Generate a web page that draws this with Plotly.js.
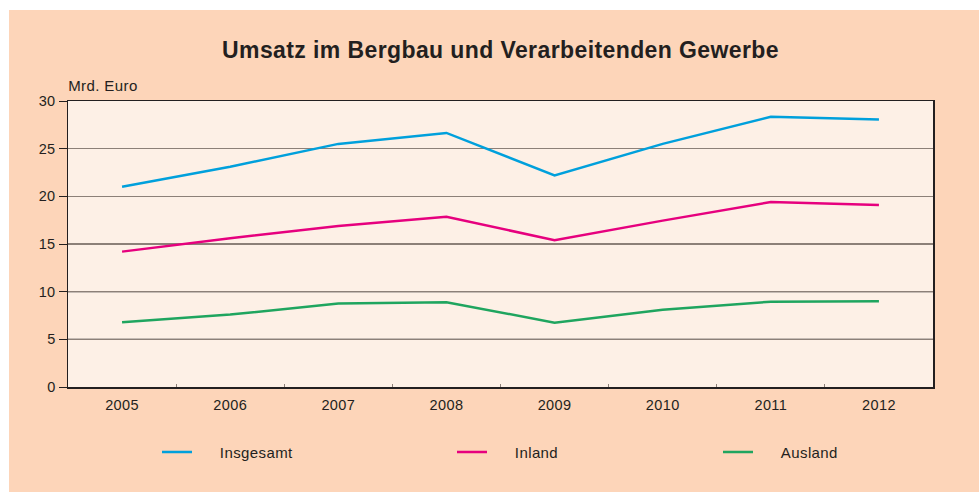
<!DOCTYPE html>
<html>
<head>
<meta charset="utf-8">
<script src="https://cdn.plot.ly/plotly-3.0.1.min.js"></script>
<style>
html,body{margin:0;padding:0;background:#ffffff;width:979px;height:492px;overflow:hidden;}
#chart{position:absolute;left:9px;top:10px;width:970px;height:482px;}
#chart text{letter-spacing:0.4px;}
</style>
</head>
<body>
<div id="chart"></div>
<script>
const years = ['2005','2006','2007','2008','2009','2010','2011','2012'];
const insgesamt = [21.0, 23.1, 25.5, 26.65, 22.2, 25.5, 28.35, 28.05];
const inland = [14.2, 15.6, 16.9, 17.85, 15.4, 17.45, 19.4, 19.1];
const ausland = [6.8, 7.6, 8.75, 8.9, 6.75, 8.1, 8.95, 9.0];
const seriesNames = ['Insgesamt', 'Inland', 'Ausland'];
const yTicks = [0, 5, 10, 15, 20, 25, 30];
const darkGrid = [5, 10];

const pad = '\u00a0\u00a0\u00a0\u00a0\u00a0';
const colors = ['#00a0dc', '#e6007e', '#1fa55f'];
const dataSets = [insgesamt, inland, ausland];
const legendIds = ['legend', 'legend2', 'legend3'];

const traces = dataSets.map((vals, i) => ({
  type: 'scatter', mode: 'lines', x: years, y: vals,
  name: pad + seriesNames[i], legend: legendIds[i],
  line: {color: colors[i], width: 2.5}
}));

const FONT = 'Liberation Sans, Arial, sans-serif';
const legendFont = {family: FONT, size: 15, color: '#231f20'};
const legendX = [167, 462, 728].map(px => (px - 68 - 10) / 865);
const legendBase = {orientation: 'h', yanchor: 'middle', xanchor: 'left', y: -0.228, bgcolor: 'rgba(0,0,0,0)', font: legendFont};

const layout = {
  width: 970, height: 482,
  paper_bgcolor: '#fdd5b9',
  plot_bgcolor: '#fdf0e6',
  margin: {l: 59, r: 46, t: 91, b: 105},
  title: {text: 'Umsatz im Bergbau und Verarbeitenden Gewerbe',
          font: {family: FONT, size: 23, color: '#231f20', weight: 'bold'},
          x: 0.5, xref: 'paper', xanchor: 'center', y: 1 - 40/482, yanchor: 'middle'},
  xaxis: {type: 'category', range: [-0.5, 7.5], showgrid: false,
          tickson: 'boundaries', ticks: 'inside', ticklen: 3, tickcolor: '#8c8078',
          ticklabelstandoff: 4,
          showline: true, linecolor: '#231f20', linewidth: 1.5, mirror: true,
          tickfont: {family: FONT, size: 14.5, color: '#231f20'},
          fixedrange: true},
  yaxis: {range: [0, 30], tickvals: yTicks, ticktext: yTicks.map(String),
          showgrid: true, gridcolor: '#8c8078', gridwidth: 1.6,
          ticks: 'outside', ticklen: 8, tickcolor: '#231f20', tickwidth: 1,
          showline: true, linecolor: '#231f20', linewidth: 1.5, mirror: true,
          zeroline: false,
          tickfont: {family: FONT, size: 14.5, color: '#231f20'},
          fixedrange: true},
  shapes: darkGrid.map(v => ({type: 'line', xref: 'paper', x0: 0, x1: 1, yref: 'y', y0: v, y1: v,
          line: {color: '#231f20', width: 1.2}, layer: 'below'})),
  annotations: [{text: 'Mrd. Euro', xref: 'paper', yref: 'paper', x: 0, y: (387-86)/286,
          xanchor: 'left', yanchor: 'middle', showarrow: false,
          font: {family: FONT, size: 15, color: '#231f20'}}],
  legend: Object.assign({}, legendBase, {x: legendX[0]}),
  legend2: Object.assign({}, legendBase, {x: legendX[1]}),
  legend3: Object.assign({}, legendBase, {x: legendX[2]}),
  showlegend: true
};

Plotly.newPlot('chart', traces, layout, {displayModeBar: false, staticPlot: true});
</script>
</body>
</html>
